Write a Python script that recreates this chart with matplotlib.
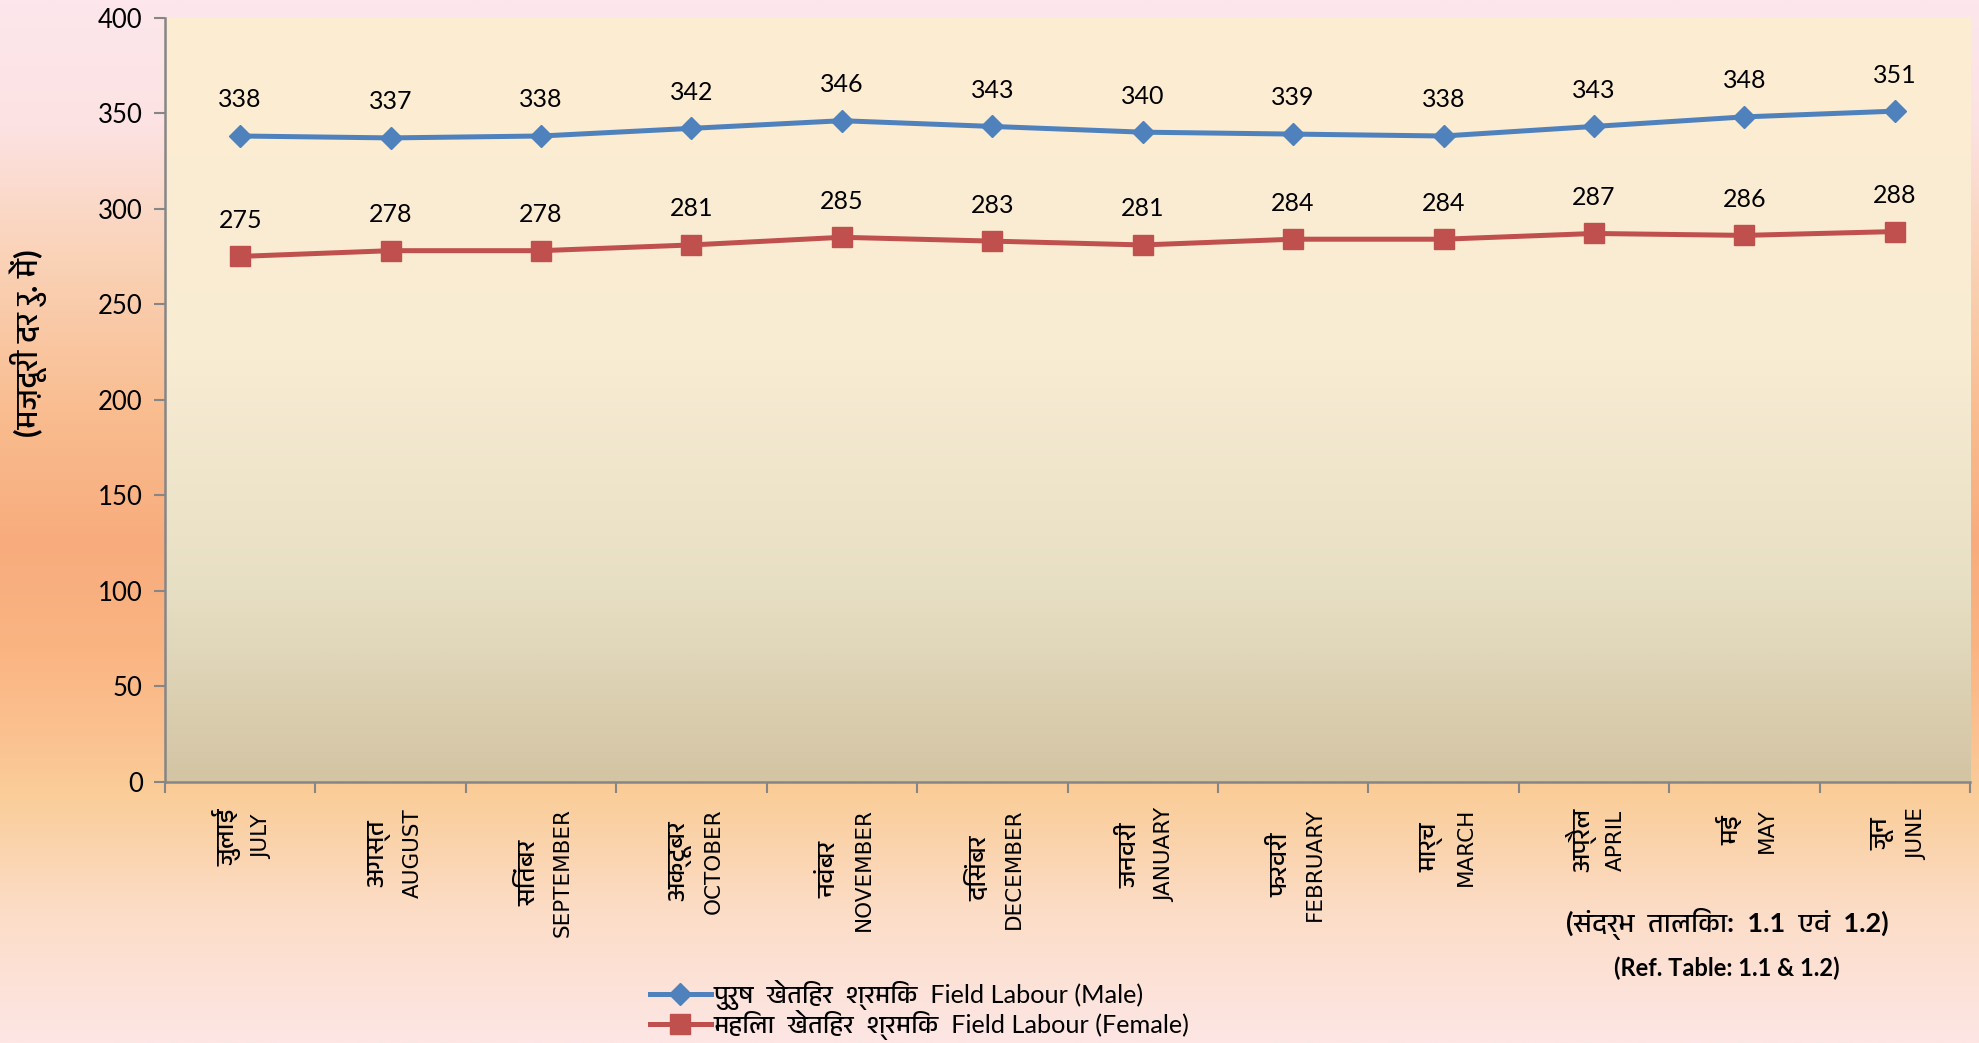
import numpy as np
import matplotlib
matplotlib.use("Agg")
import matplotlib.pyplot as plt
from matplotlib import font_manager as fm
from matplotlib.colors import LinearSegmentedColormap
from matplotlib.lines import Line2D
from matplotlib.transforms import IdentityTransform

# ---------------- data ----------------
months_hi = ["जुलाई", "अगस्त", "सितंबर", "अक्टूबर", "नवंबर", "दिसंबर",
             "जनवरी", "फरवरी", "मार्च", "अप्रैल", "मई", "जून"]
months_en = ["JULY", "AUGUST", "SEPTEMBER", "OCTOBER", "NOVEMBER", "DECEMBER",
             "JANUARY", "FEBRUARY", "MARCH", "APRIL", "MAY", "JUNE"]
male = [338, 337, 338, 342, 346, 343, 340, 339, 338, 343, 348, 351]
female = [275, 278, 278, 281, 285, 283, 281, 284, 284, 287, 286, 288]
yticks = [0, 50, 100, 150, 200, 250, 300, 350, 400]
male_label = "पुरुष  खेतिहर  श्रमिक  Field Labour (Male)"
female_label = "महिला  खेतिहर  श्रमिक  Field Labour (Female)"
ylabel = "(मज़दूरी दर रु. में)"
ref_hi = "(संदर्भ  तालिका:  1.1  एवं  1.2)"
ref_en = "(Ref. Table: 1.1 & 1.2)"

# ---------------- fonts ----------------
dev = None
for f in fm.fontManager.ttflist:
    n = f.name.lower()
    if "devanagari" in n or "lohit" in n or "mangal" in n or "gargi" in n:
        dev = f.name
        break
def fam(primary):
    lst = [primary]
    if dev:
        lst.append(dev)
    lst.append("DejaVu Sans")
    return lst

W, H = 1979, 1043
fig = plt.figure(figsize=(W / 100, H / 100), dpi=100)

# figure background gradient
bg = fig.add_axes([0, 0, 1, 1], zorder=0)
bg.set_axis_off()
stops = [(0.0, (253, 231, 236)), (0.12, (252, 226, 226)), (0.25, (250, 210, 182)),
         (0.40, (249, 188, 142)), (0.52, (248, 172, 125)), (0.62, (250, 180, 130)),
         (0.72, (251, 196, 146)), (0.76, (250, 205, 152)), (0.88, (252, 221, 200)),
         (1.0, (253, 230, 228))]
cm_bg = LinearSegmentedColormap.from_list("bg", [(p, tuple(c / 255 for c in col)) for p, col in stops])
grad = np.linspace(0, 1, 512).reshape(-1, 1)
bg.imshow(grad, cmap=cm_bg, aspect="auto", extent=[0, 1, 0, 1], origin="upper")
bg.set_xlim(0, 1); bg.set_ylim(0, 1)

# main axes
ax = fig.add_axes([165 / W, 1 - 782 / H, (1970 - 165) / W, (782 - 17.5) / H], zorder=1)
ax.patch.set_visible(False)
pstops = [(0.0, (253, 237, 210)), (0.45, (248, 236, 211)), (0.75, (231, 223, 196)),
          (1.0, (211, 196, 163))]
cm_p = LinearSegmentedColormap.from_list("pa", [(p, tuple(c / 255 for c in col)) for p, col in pstops])
ax.imshow(grad, cmap=cm_p, aspect="auto", extent=[0, 1, 0, 1], origin="upper",
          transform=ax.transAxes, zorder=0)

x = np.arange(len(months_en))
blue = "#4F81BD"
red = "#C0504D"
ax.plot(x, male, color=blue, lw=3.6, marker="D", ms=11, zorder=3)
ax.plot(x, female, color=red, lw=3.6, marker="s", ms=14, zorder=3)

num_font = "Lato"
for xi, v in zip(x, male):
    ax.annotate(str(v), (xi, v), xytext=(0, 26), textcoords="offset points",
                ha="center", va="center", fontsize=18, family=num_font, zorder=4)
for xi, v in zip(x, female):
    ax.annotate(str(v), (xi, v), xytext=(0, 26), textcoords="offset points",
                ha="center", va="center", fontsize=18, family=num_font, zorder=4)

ax.set_xlim(-0.5, len(x) - 0.5)
ax.set_ylim(0, 400)
ax.set_yticks(yticks)
ax.set_yticklabels([str(t) for t in yticks], fontsize=18.5, family=num_font)
ax.set_xticks(np.arange(-0.5, len(x), 1.0))
ax.set_xticklabels([])
ax.tick_params(axis="x", which="major", length=8, width=1.5, color="#868686", direction="out")
ax.tick_params(axis="y", length=8, width=1.5, color="#868686", direction="out", pad=8)
for s in ["top", "right"]:
    ax.spines[s].set_visible(False)
for s in ["left", "bottom"]:
    ax.spines[s].set_color("#868686")
    ax.spines[s].set_linewidth(1.8)

# month labels: two rotated texts per category, centred on each other, block top at y=808px
fig.canvas.draw()
renderer = fig.canvas.get_renderer()
top_px = H - 808
for xi, h, e in zip(x, months_hi, months_en):
    cx = ax.transData.transform((xi, 0))[0]
    th = fig.text(cx - 13, 0, h, rotation=90, ha="center", va="center",
                  fontsize=18.5, family=fam("DejaVu Sans"), transform=IdentityTransform(), zorder=5)
    te = fig.text(cx + 22, 0, e, rotation=90, ha="center", va="center",
                  fontsize=15.5, family="DejaVu Sans", transform=IdentityTransform(), zorder=5)
    hh = th.get_window_extent(renderer).height
    he = te.get_window_extent(renderer).height
    ext = max(hh, he)
    cy = top_px - ext / 2
    th.set_position((cx - 13, cy))
    te.set_position((cx + 22, cy))

fig.text(28 / W, 1 - 343 / H, ylabel, rotation=90, ha="center", va="center",
         fontsize=22.5, fontweight="bold", family=fam("Lato"), zorder=5)

fig.text(1727 / W, 1 - 924 / H, ref_hi, ha="center", va="center", fontsize=19.5,
         fontweight="bold", family=fam("Lato"), zorder=5)
fig.text(1727 / W, 1 - 968 / H, ref_en, ha="center", va="center", fontsize=17,
         fontweight="bold", family=fam("Lato"), zorder=5)

handles = [Line2D([], [], color=blue, lw=3.6, marker="D", ms=11),
           Line2D([], [], color=red, lw=3.6, marker="s", ms=14)]
leg = fig.legend(handles, [male_label, female_label], loc="center left",
                 bbox_to_anchor=(650 / W, 1 - 1010 / H), frameon=False,
                 prop={"family": fam("Lato"), "size": 18.2}, handlelength=2.4,
                 handletextpad=0.1, labelspacing=0.0, borderaxespad=0, borderpad=0)

fig.savefig("out.png", dpi=100)
